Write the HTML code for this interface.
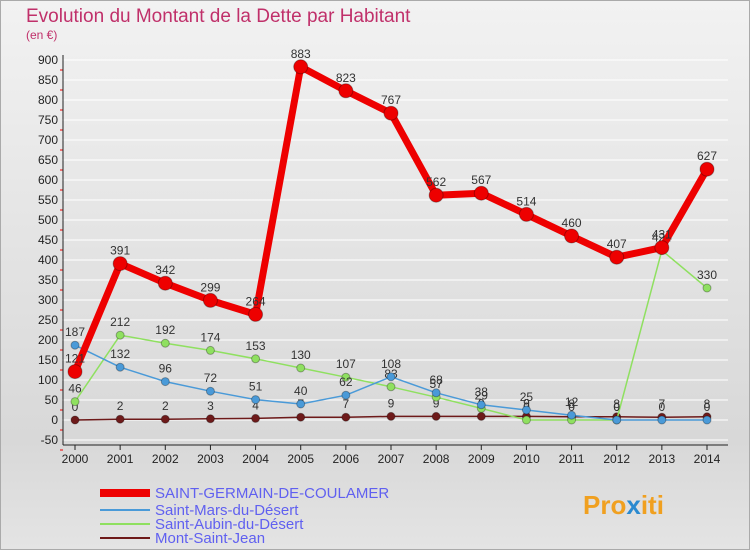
<!DOCTYPE html>
<html><head><meta charset="utf-8"><style>
body{margin:0;background:#fff}
#wrap{width:750px;height:550px;position:relative;font-family:"Liberation Sans",sans-serif;overflow:hidden;background:linear-gradient(#f2f2f2,#d8d8d8 80%,#e4e4e4)}
</style></head><body>
<div id="wrap">
<svg id="svg" width="750" height="550" xmlns="http://www.w3.org/2000/svg">
<rect x="0.5" y="0.5" width="749" height="549" fill="none" stroke="#aaa"/>
<text x="26" y="22" font-size="19" fill="#c0306a">Evolution du Montant de la Dette par Habitant</text>
<text x="26" y="39" font-size="12" fill="#c0306a">(en €)</text>
<g id="grid"></g><g id="axes"></g><g id="series"></g><g id="legend"></g>
<text x="583" y="514" font-size="26" font-weight="bold" fill="#f0a020">Pro<tspan fill="#2a8ad0">x</tspan>iti</text>
</svg>
</div>
<script>
const years=[2000,2001,2002,2003,2004,2005,2006,2007,2008,2009,2010,2011,2012,2013,2014];
const yTicks=[-50,0,50,100,150,200,250,300,350,400,450,500,550,600,650,700,750,800,850,900];
const saintGermain=[121,391,342,299,264,883,823,767,562,567,514,460,407,431,627];
const saintMars=[187,132,96,72,51,40,62,108,68,38,25,12,0,0,0];
const saintAubin=[46,212,192,174,153,130,107,83,57,29,0,0,0,424,330];
const montSaintJean=[0,2,2,3,4,7,7,9,9,9,9,8,8,7,8];
const NS="http://www.w3.org/2000/svg";
const X=i=>75+i*(707-75)/14;
const Y=v=>420-v*0.4;
function mk(t,a,p){const e=document.createElementNS(NS,t);for(const k in a)e.setAttribute(k,a[k]);p.appendChild(e);return e;}
const grid=document.getElementById('grid'),axes=document.getElementById('axes'),ser=document.getElementById('series'),leg=document.getElementById('legend');
yTicks.forEach(v=>{
 const l=mk('line',{x1:62,x2:728,y1:Y(v),y2:Y(v),stroke:'#fff','stroke-width':1},grid);
 
 const t=mk('text',{x:58,y:Y(v)+4,'font-size':12,'text-anchor':'end',fill:'#222'},axes);
 t.textContent=v;
 mk('line',{x1:60,x2:63,y1:Y(v)+10,y2:Y(v)+10,stroke:'#e00'},axes);
});
mk('line',{x1:63,x2:63,y1:55,y2:445,stroke:'#222'},axes);
mk('line',{x1:63,x2:728,y1:445,y2:445,stroke:'#222'},axes);
years.forEach((yr,i)=>{
 mk('line',{x1:X(i),x2:X(i),y1:445,y2:450,stroke:'#222'},axes);
 const t=mk('text',{x:X(i),y:463,'font-size':12,'text-anchor':'middle',fill:'#222'},axes);
 t.textContent=yr;
});
function draw(vals,color,w,r,name,labels){
 const g=mk('g',{},ser);
 mk('polyline',{points:vals.map((v,i)=>X(i)+','+Y(v)).join(' '),fill:'none',stroke:color,'stroke-width':w,'stroke-linejoin':'round'},g);
 vals.forEach((v,i)=>{
  const c=mk('circle',{cx:X(i),cy:Y(v),r:r,fill:color,stroke:'rgba(0,0,0,0.3)','stroke-width':1},g);
  
  if(labels){const t=mk('text',{x:X(i),y:Y(v)-9,'font-size':12,'text-anchor':'middle',fill:'#333'},g);t.textContent=v;}
 });
}
draw(montSaintJean,'#6e1a1a',1.5,4,'mont-saint-jean-series',true);
draw(saintAubin,'#8fe060',1.5,4,'saint-aubin-series',true);
draw(saintMars,'#4a9ad8',1.5,4,'saint-mars-series',true);
draw(saintGermain,'#ee0000',7,7,'saint-germain-series',true);
const entries=[['SAINT-GERMAIN-DE-COULAMER','#ee0000',8,493],['Saint-Mars-du-Désert','#4a9ad8',2,510],['Saint-Aubin-du-Désert','#8fe060',2,524],['Mont-Saint-Jean','#6e1a1a',2,538]];
entries.forEach(e=>{
 const g=mk('g',{},leg);
 mk('line',{x1:100,x2:150,y1:e[3],y2:e[3],stroke:e[1],'stroke-width':e[2]},g);
 const t=mk('text',{x:155,y:e[3]+5,'font-size':15,fill:'#6060f0'},g);t.textContent=e[0];
});
</script>
</body></html>
